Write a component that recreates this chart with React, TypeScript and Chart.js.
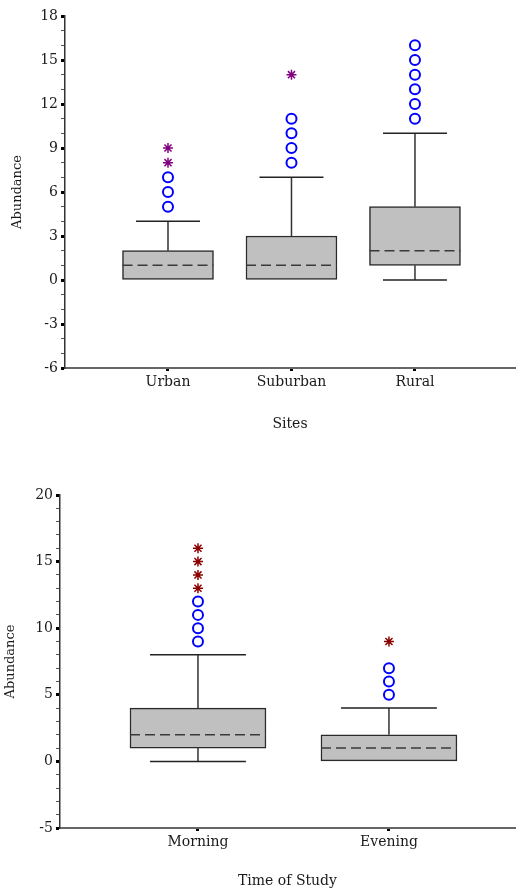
import React, { useEffect, useRef } from 'react';
import { Chart, registerables } from 'chart.js';

Chart.register(...registerables);

// ---------- Chart 1: Sites ----------
const SITE_CATEGORIES = ['Urban', 'Suburban', 'Rural'];
const SITE_MIN = [0, 0, 0];
const SITE_Q1 = [0, 0, 1];
const SITE_MEDIAN = [1, 1, 2];
const SITE_Q3 = [2, 3, 5];
const SITE_MAX = [4, 7, 10];
const SITE_OUTLIERS = [[5, 6, 7], [8, 9, 10, 11], [11, 12, 13, 14, 15, 16]];
const SITE_EXTREMES = [[8, 9], [14], []];
const SITE_Y_TICKS = [-6, -3, 0, 3, 6, 9, 12, 15, 18];

// ---------- Chart 2: Time of Study ----------
const TIME_CATEGORIES = ['Morning', 'Evening'];
const TIME_MIN = [0, 0];
const TIME_Q1 = [1, 0];
const TIME_MEDIAN = [2, 1];
const TIME_Q3 = [4, 2];
const TIME_MAX = [8, 4];
const TIME_OUTLIERS = [[9, 10, 11, 12], [5, 6, 7]];
const TIME_EXTREMES = [[13, 14, 15, 16], [9]];
const TIME_Y_TICKS = [-5, 0, 5, 10, 15, 20];

const FONT = 'DejaVu Serif';
const TEXT = '#1a1a1a';

type Spec = {
  categories: string[];
  min: number[];
  q1: number[];
  median: number[];
  q3: number[];
  max: number[];
  outliers: number[][];
  extremes: number[][];
  yTicks: number[];
  xTitle: string;
  starColor: string;
  top: number;
  width: number;
  height: number;
  xMin: number;
  xMax: number;
  boxThickness: number;
  boxHalf: number;
  capHalf: number;
  padding: { top: number; right: number; bottom: number; left: number };
  yAxisWidth: number;
  xAxisHeight: number;
  yTitlePad: number;
  xTitlePad: number;
  xTickPad: number;
};

const SITES: Spec = {
  categories: SITE_CATEGORIES,
  min: SITE_MIN,
  q1: SITE_Q1,
  median: SITE_MEDIAN,
  q3: SITE_Q3,
  max: SITE_MAX,
  outliers: SITE_OUTLIERS,
  extremes: SITE_EXTREMES,
  yTicks: SITE_Y_TICKS,
  xTitle: 'Sites',
  starColor: '#800080',
  top: 0,
  width: 522,
  height: 445,
  xMin: 0.166,
  xMax: 3.81,
  boxThickness: 91,
  boxHalf: 0.368,
  capHalf: 0.259,
  padding: { top: 16, right: 4, bottom: 0, left: 0 },
  yAxisWidth: 65,
  xAxisHeight: 77,
  yTitlePad: 10,
  xTitlePad: 12,
  xTickPad: 3,
};

const TIME: Spec = {
  categories: TIME_CATEGORIES,
  min: TIME_MIN,
  q1: TIME_Q1,
  median: TIME_MEDIAN,
  q3: TIME_Q3,
  max: TIME_MAX,
  outliers: TIME_OUTLIERS,
  extremes: TIME_EXTREMES,
  yTicks: TIME_Y_TICKS,
  xTitle: 'Time of Study',
  starColor: '#8B0000',
  top: 445,
  width: 522,
  height: 445,
  xMin: 0.2775,
  xMax: 2.66,
  boxThickness: 136,
  boxHalf: 0.356,
  capHalf: 0.251,
  padding: { top: 50, right: 0, bottom: 0, left: 0 },
  yAxisWidth: 60,
  xAxisHeight: 62,
  yTitlePad: 3,
  xTitlePad: 0,
  xTickPad: 3,
};

function buildConfig(s: Spec): any {
  const gap = (x: number) => ({ x, y: null });
  const whiskers: any[] = [];
  const caps: any[] = [];
  const medians: any[] = [];
  const outPts: any[] = [];
  const extPts: any[] = [];
  s.categories.forEach((_, i) => {
    const x = i + 1;
    if (s.max[i] > s.q3[i]) {
      whiskers.push({ x, y: s.q3[i] }, { x, y: s.max[i] }, gap(x + 0.5));
      caps.push({ x: x - s.capHalf, y: s.max[i] }, { x: x + s.capHalf, y: s.max[i] }, gap(x + 0.5));
    }
    if (s.min[i] < s.q1[i]) {
      whiskers.push({ x, y: s.min[i] }, { x, y: s.q1[i] }, gap(x + 0.5));
      caps.push({ x: x - s.capHalf, y: s.min[i] }, { x: x + s.capHalf, y: s.min[i] }, gap(x + 0.5));
    }
    medians.push({ x: x - s.boxHalf, y: s.median[i] }, { x: x + s.boxHalf, y: s.median[i] }, gap(x + 0.5));
    s.outliers[i].forEach((v) => outPts.push({ x, y: v }));
    s.extremes[i].forEach((v) => extPts.push({ x, y: v }));
  });

  const yMin = s.yTicks[0];
  const yMax = s.yTicks[s.yTicks.length - 1];
  const allY: number[] = [];
  for (let v = yMin; v <= yMax; v++) allY.push(v);
  const isMajor = (v: number) => s.yTicks.includes(v);

  const lineBase = {
    type: 'line',
    showLine: true,
    pointRadius: 0,
    pointHoverRadius: 0,
    fill: false,
    spanGaps: false,
    tension: 0,
  };

  return {
    type: 'bar',
    data: {
      datasets: [
        {
          type: 'scatter',
          data: extPts,
          pointStyle: 'star',
          pointRadius: 5,
          borderWidth: 1.5,
          borderColor: s.starColor,
          backgroundColor: s.starColor,
          order: 0,
        },
        {
          type: 'scatter',
          data: outPts,
          pointStyle: 'circle',
          pointRadius: 5,
          borderWidth: 2,
          borderColor: '#0000FF',
          backgroundColor: 'rgba(255,255,255,0)',
          order: 1,
        },
        { ...lineBase, data: medians, borderColor: '#3a3a3a', borderWidth: 1.5, borderDash: [10, 5], order: 2 },
        { ...lineBase, data: caps, borderColor: '#222', borderWidth: 1.5, order: 3 },
        { ...lineBase, data: whiskers, borderColor: '#333', borderWidth: 1.5, order: 4 },
        {
          type: 'bar',
          data: s.categories.map((_, i) => ({ x: i + 1, y: [s.q1[i], s.q3[i]] })),
          backgroundColor: '#C0C0C0',
          borderColor: '#2a2a2a',
          borderWidth: 1.5,
          borderSkipped: false,
          barThickness: s.boxThickness,
          order: 5,
        },
      ],
    },
    options: {
      responsive: false,
      maintainAspectRatio: false,
      animation: false,
      devicePixelRatio: 1,
      layout: { padding: s.padding },
      plugins: { legend: { display: false }, tooltip: { enabled: false } },
      scales: {
        x: {
          type: 'linear',
          min: s.xMin,
          max: s.xMax,
          offset: false,
          afterBuildTicks: (scale: any) => {
            scale.ticks = s.categories.map((_, i) => ({ value: i + 1 }));
          },
          afterFit: (scale: any) => {
            scale.height = s.xAxisHeight;
          },
          ticks: {
            autoSkip: false,
            maxRotation: 0,
            padding: s.xTickPad,
            color: TEXT,
            font: { family: FONT, size: 14 },
            callback: (_v: any, index: number) => s.categories[index],
          },
          grid: {
            offset: false,
            drawOnChartArea: false,
            drawTicks: true,
            tickLength: 3,
            tickWidth: 3,
            tickColor: '#000',
          },
          border: { display: true, color: '#666', width: 2 },
          title: {
            display: true,
            text: s.xTitle,
            color: TEXT,
            font: { family: FONT, size: 14 },
            padding: { top: 0, bottom: s.xTitlePad },
          },
        },
        y: {
          type: 'linear',
          min: yMin,
          max: yMax,
          afterBuildTicks: (scale: any) => {
            scale.ticks = allY.map((v) => ({ value: v, major: isMajor(v) }));
          },
          afterFit: (scale: any) => {
            scale.width = s.yAxisWidth;
          },
          ticks: {
            autoSkip: false,
            padding: 3,
            color: TEXT,
            font: { family: FONT, size: 14 },
            callback: (v: any) => (isMajor(v) ? String(v) : ''),
          },
          grid: {
            drawOnChartArea: false,
            drawTicks: true,
            tickLength: 4,
            tickWidth: (ctx: any) => (ctx.tick && isMajor(ctx.tick.value) ? 3 : 1),
            tickColor: (ctx: any) => (ctx.tick && isMajor(ctx.tick.value) ? '#000' : '#555'),
          },
          border: { display: true, color: '#333', width: 1.5 },
          title: {
            display: true,
            text: 'Abundance',
            color: TEXT,
            font: { family: FONT, size: 13 },
            padding: { top: s.yTitlePad, bottom: 0 },
          },
        },
      },
    },
  };
}

function BoxPlot({ spec }: { spec: Spec }) {
  const ref = useRef<HTMLCanvasElement>(null);
  useEffect(() => {
    if (!ref.current) return;
    const chart = new Chart(ref.current, buildConfig(spec));
    return () => chart.destroy();
  }, [spec]);
  return (
    <canvas
      ref={ref}
      width={spec.width}
      height={spec.height}
      style={{ position: 'absolute', left: 0, top: spec.top, width: spec.width, height: spec.height }}
    />
  );
}

export default function App() {
  return (
    <div
      style={{
        position: 'absolute',
        left: 0,
        top: 0,
        width: 522,
        height: 890,
        overflow: 'hidden',
        background: '#fff',
      }}
    >
      <BoxPlot spec={SITES} />
      <BoxPlot spec={TIME} />
    </div>
  );
}
